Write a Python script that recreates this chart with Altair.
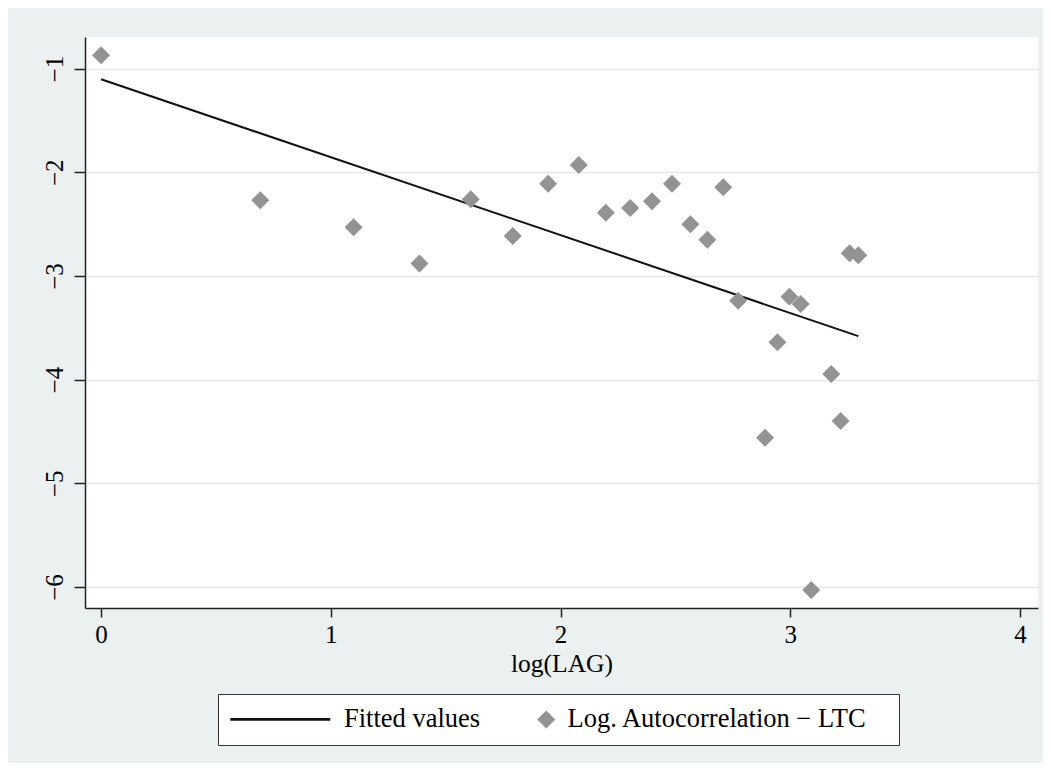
import altair as alt
import pandas as pd

# log(LAG) values of the plotted points
log_lag = [0.000, 0.693, 1.099, 1.386, 1.609, 1.792, 1.946, 2.079, 2.197, 2.303,
           2.398, 2.485, 2.565, 2.639, 2.708, 2.773, 2.890, 2.944, 2.996, 3.045,
           3.091, 3.178, 3.219, 3.258, 3.296]
# Log. autocorrelation values
log_acf = [-0.87, -2.27, -2.53, -2.88, -2.26, -2.615, -2.11, -1.93, -2.39, -2.345,
           -2.28, -2.11, -2.50, -2.65, -2.145, -3.24, -4.56, -3.64, -3.20, -3.27,
           -6.03, -3.945, -4.40, -2.78, -2.80]
# fitted values (line endpoints)
fit_x = [0.000, 3.296]
fit_y = [-1.103, -3.58]

series_names = ["Fitted values", "Log. Autocorrelation \u2212 LTC"]
x_ticks = [0, 1, 2, 3, 4]
y_ticks = [-6, -5, -4, -3, -2, -1]

pts = pd.DataFrame({"x": log_lag, "y": log_acf, "series": series_names[1]})
fit = pd.DataFrame({"x": fit_x, "y": fit_y, "series": series_names[0]})

FONT = "Liberation Serif"
# legend symbol for the fitted line: a long thin bar
line_shape = "M-1.44,-0.15H9.67V0.15H-1.44Z"
NB = "\u00a0"
ZW = "\u200b"
label_expr = ("indexof(datum.label, 'Fitted') >= 0 ? '" + ZW + NB * 12 + "' + datum.label : datum.label + '"
              + NB * 3 + ZW + "'")

xscale = alt.Scale(domain=[-0.07, 4.078], nice=False, zero=False)
yscale = alt.Scale(domain=[-6.2025, -0.695], nice=False, zero=False)

xaxis = alt.Axis(values=x_ticks, title="log(LAG)", grid=False, format="d",
                 labelFont=FONT, labelFontSize=25, labelColor="black",
                 titleFont=FONT, titleFontSize=25.5, titleFontWeight="normal",
                 titleColor="black", titlePadding=4, labelPadding=5,
                 tickSize=9, tickWidth=1.5, tickColor="#222",
                 domainColor="#222", domainWidth=1.5)
yaxis = alt.Axis(values=y_ticks, title=None, grid=True, format="d",
                 gridColor="#e3e7e7", gridWidth=1.6,
                 labelFont=FONT, labelFontSize=25, labelColor="black",
                 labelAngle=270, labelAlign="center", labelBaseline="alphabetic",
                 labelPadding=12, tickSize=11, tickWidth=1.5, tickColor="#222",
                 domainColor="#222", domainWidth=1.5)

leg = alt.Legend(title=None, orient="none", direction="horizontal",
                 legendX=133, legendY=657,
                 labelFont=FONT, labelFontSize=26.5, labelColor="black",
                 labelLimit=600, labelOffset=8, columnPadding=52,
                 labelExpr=label_expr,
                 symbolSize=324, symbolStrokeWidth=0, symbolOpacity=1,
                 padding=12, strokeColor="#333", fillColor="white")

line = alt.Chart(fit).mark_line(color="#111", strokeWidth=2).encode(
    x=alt.X("x:Q", scale=xscale, axis=xaxis),
    y=alt.Y("y:Q", scale=yscale, axis=yaxis),
)

points = alt.Chart(pts).mark_point(filled=True, size=324, opacity=1).encode(
    x=alt.X("x:Q", scale=xscale, axis=xaxis),
    y=alt.Y("y:Q", scale=yscale, axis=yaxis),
    color=alt.Color("series:N",
                    scale=alt.Scale(domain=series_names, range=["#111111", "#939393"]),
                    legend=leg),
    shape=alt.Shape("series:N",
                    scale=alt.Scale(domain=series_names, range=[line_shape, "diamond"]),
                    legend=leg),
)

chart = alt.layer(line, points).properties(
    width=953, height=571,
    autosize=alt.AutoSizeParams(type="none"),
    padding={"left": 77, "top": 29, "right": 5, "bottom": 155},
    background="#EBF0F0",
).configure_view(strokeWidth=0, fill="white")

chart.save("out.html", embed_options={"renderer": "svg", "actions": False})
